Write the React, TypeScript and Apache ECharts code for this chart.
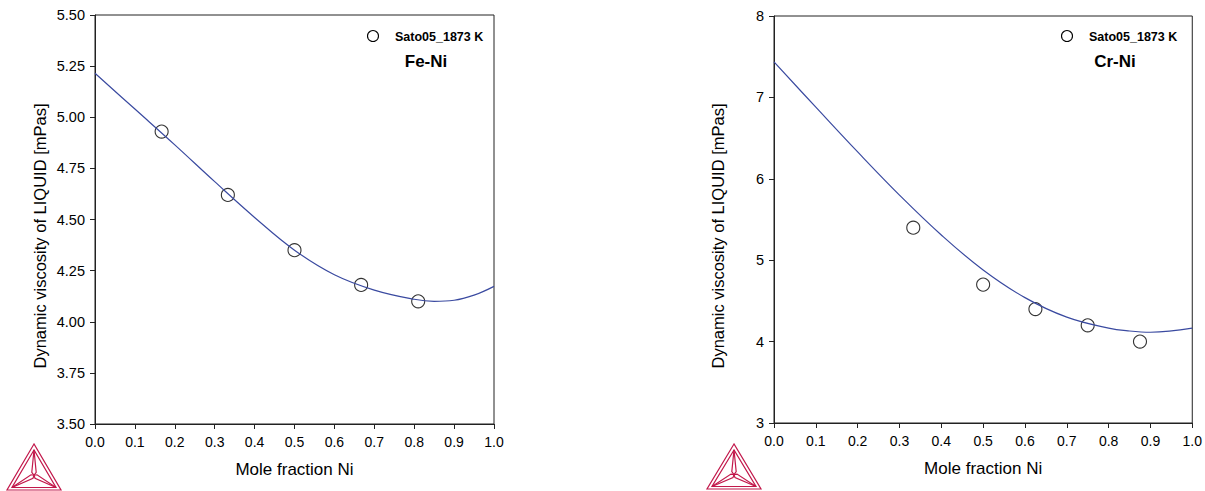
import React, { useEffect, useRef } from "react";
import * as echarts from "echarts";

// Fe-Ni calculated curve
const feniCurveX = [0, 0.1, 0.2, 0.3, 0.4, 0.5, 0.6, 0.7, 0.8, 0.85, 0.9, 0.95, 1.0];
const feniCurveY = [5.215, 5.04, 4.865, 4.685, 4.51, 4.35, 4.23, 4.155, 4.11, 4.1, 4.105, 4.13, 4.173];
// Fe-Ni experimental points (Sato05, 1873 K)
const feniPtsX = [0.167, 0.333, 0.5, 0.667, 0.81];
const feniPtsY = [4.93, 4.62, 4.35, 4.18, 4.1];

// Cr-Ni calculated curve
const crniCurveX = [0, 0.1, 0.2, 0.3, 0.4, 0.5, 0.6, 0.7, 0.8, 0.85, 0.9, 1.0];
const crniCurveY = [7.436, 6.88, 6.33, 5.8, 5.31, 4.88, 4.54, 4.3, 4.165, 4.13, 4.115, 4.165];
// Cr-Ni experimental points
const crniPtsX = [0.333, 0.5, 0.625, 0.75, 0.875];
const crniPtsY = [5.4, 4.7, 4.4, 4.2, 4.0];

const legendName = "Sato05_1873 K";
const xTitle = "Mole fraction Ni";
const yTitle = "Dynamic viscosity of LIQUID [mPas]";

const FONT = "'Liberation Sans', Arial, sans-serif";
const AXIS_COLOR = "#222";
const CURVE_COLOR = "#3a4aa0";
const LOGO_COLOR = "#c2184b";

const zip = (xs: number[], ys: number[]) => xs.map((x, i) => [x, ys[i]]);

function makeLogo(ax: number, ay: number, lx: number, rx: number, by: number) {
  const h = by - ay;
  const jy = ay + h * 0.68;
  const iA = [ax, ay + 6];
  const iL = [lx + 5, by - 2.5];
  const iR = [rx - 5, by - 2.5];
  const style = { stroke: LOGO_COLOR, lineWidth: 1.2, fill: "none" };
  const poly = (pts: number[][]) => ({ type: "polyline", shape: { points: pts }, style, silent: true });
  return [
    { type: "polygon", shape: { points: [[ax, ay], [lx, by], [rx, by]] }, style, silent: true },
    { type: "polygon", shape: { points: [iA, iL, iR] }, style, silent: true },
    poly([iA, [ax - 2.2, jy - 3], [ax, jy]]),
    poly([iA, [ax + 2.2, jy - 3], [ax, jy]]),
    poly([iL, [ax - 3, jy - 0.5], [ax, jy]]),
    poly([iL, [ax - 1, jy + 3], [ax, jy]]),
    poly([iR, [ax + 3, jy - 0.5], [ax, jy]]),
    poly([iR, [ax + 1, jy + 3], [ax, jy]]),
  ];
}

function xAxisCfg(gridIndex: number) {
  return {
    type: "value",
    gridIndex,
    min: 0,
    max: 1,
    interval: 0.1,
    axisLine: { show: true, lineStyle: { color: AXIS_COLOR, width: 1 } },
    axisTick: { show: true, inside: false, length: 5, lineStyle: { color: AXIS_COLOR, width: 1 } },
    splitLine: { show: false },
    axisLabel: {
      color: "#000",
      fontSize: 14,
      fontFamily: FONT,
      margin: 11,
      formatter: (v: number) => v.toFixed(1),
    },
    name: xTitle,
    nameLocation: "middle",
    nameGap: 37,
    nameTextStyle: { color: "#000", fontSize: 17, fontFamily: FONT },
  };
}

function yAxisCfg(gridIndex: number, min: number, max: number, interval: number, digits: number) {
  return {
    type: "value",
    gridIndex,
    min,
    max,
    interval,
    axisLine: { show: true, lineStyle: { color: AXIS_COLOR, width: 1 } },
    axisTick: { show: true, inside: false, length: 5, lineStyle: { color: AXIS_COLOR, width: 1 } },
    splitLine: { show: false },
    axisLabel: {
      color: "#000",
      fontSize: 14.5,
      fontFamily: FONT,
      margin: 10,
      formatter: (v: number) => v.toFixed(digits),
    },
  };
}

const pointStyle = { color: "rgba(255,255,255,0)", borderColor: "#000", borderWidth: 1.1 };

export default function App() {
  const ref = useRef<HTMLDivElement>(null);
  useEffect(() => {
    if (!ref.current) return;
    const chart = echarts.init(ref.current, null, { renderer: "svg" });
    const legendMark = (cx: number, tx: number) => [
      {
        type: "circle",
        shape: { cx, cy: 36, r: 5.5 },
        style: { fill: "none", stroke: "#000", lineWidth: 1.1 },
        silent: true,
      },
      {
        type: "text",
        x: tx,
        y: 37,
        silent: true,
        style: { text: legendName, fill: "#000", font: `bold 12.5px ${FONT}`, textAlign: "left", textVerticalAlign: "middle" },
      },
    ];
    const titleText = (text: string, x: number) => ({
      type: "text",
      x,
      y: 61,
      silent: true,
      style: { text, fill: "#000", font: `bold 17px ${FONT}`, textAlign: "center", textVerticalAlign: "middle" },
    });
    const yTitleText = (x: number) => ({
      type: "text",
      x,
      y: 236,
      rotation: Math.PI / 2,
      silent: true,
      style: { text: yTitle, fill: "#000", font: `16.5px ${FONT}`, textAlign: "center", textVerticalAlign: "middle" },
    });
    chart.setOption({
      animation: false,
      backgroundColor: "#fff",
      grid: [
        { left: 95, top: 15, width: 399, height: 409, show: true, borderColor: AXIS_COLOR, borderWidth: 1 },
        { left: 774, top: 16, width: 420, height: 407, show: true, borderColor: AXIS_COLOR, borderWidth: 1 },
      ],
      xAxis: [xAxisCfg(0), xAxisCfg(1)],
      yAxis: [yAxisCfg(0, 3.5, 5.5, 0.25, 2), yAxisCfg(1, 3, 8, 1, 0)],
      series: [
        {
          name: "Fe-Ni calculated",
          type: "line",
          xAxisIndex: 0,
          yAxisIndex: 0,
          smooth: 0.4,
          showSymbol: false,
          lineStyle: { color: CURVE_COLOR, width: 1.2 },
          data: zip(feniCurveX, feniCurveY),
          silent: true,
        },
        {
          name: legendName,
          type: "scatter",
          xAxisIndex: 0,
          yAxisIndex: 0,
          symbol: "circle",
          symbolSize: 13,
          itemStyle: pointStyle,
          data: zip(feniPtsX, feniPtsY),
        },
        {
          name: "Cr-Ni calculated",
          type: "line",
          xAxisIndex: 1,
          yAxisIndex: 1,
          smooth: 0.4,
          showSymbol: false,
          lineStyle: { color: CURVE_COLOR, width: 1.2 },
          data: zip(crniCurveX, crniCurveY),
          silent: true,
        },
        {
          name: legendName,
          type: "scatter",
          xAxisIndex: 1,
          yAxisIndex: 1,
          symbol: "circle",
          symbolSize: 13,
          itemStyle: pointStyle,
          data: zip(crniPtsX, crniPtsY),
        },
      ],
      graphic: [
        ...legendMark(373, 395),
        ...legendMark(1067, 1089),
        titleText("Fe-Ni", 426),
        titleText("Cr-Ni", 1115),
        yTitleText(40),
        yTitleText(718),
        ...makeLogo(34, 444, 7, 61, 490),
        ...makeLogo(734, 444, 707, 761, 489),
      ],
    });
    return () => chart.dispose();
  }, []);
  return <div ref={ref} style={{ position: "fixed", left: 0, top: 0, width: 1205, height: 491 }} />;
}
